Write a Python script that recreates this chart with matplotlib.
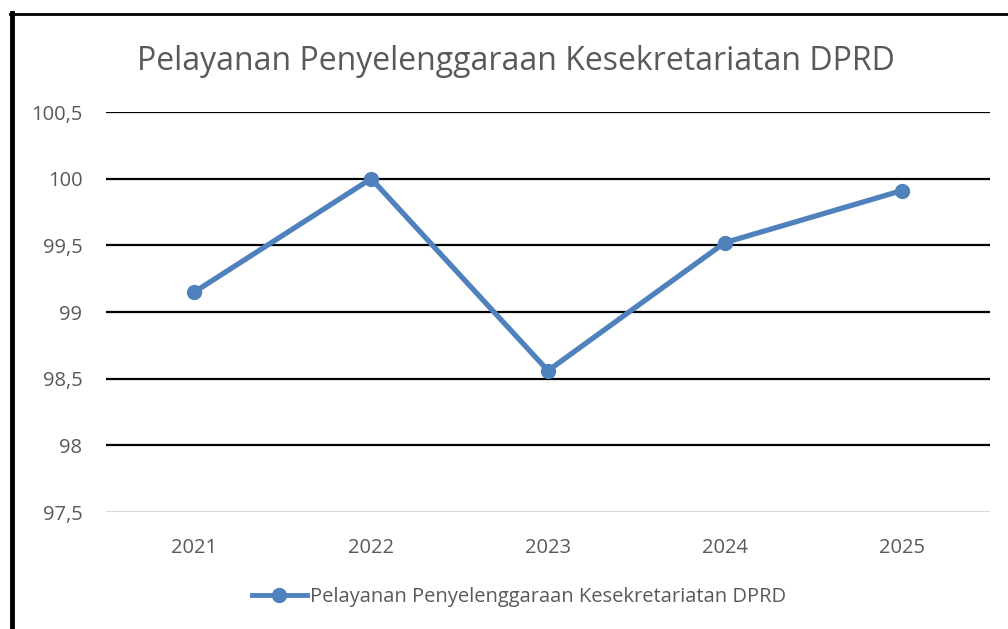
import matplotlib
matplotlib.use("Agg")
import matplotlib.pyplot as plt
from matplotlib.lines import Line2D
from matplotlib.ticker import FuncFormatter

years = ["2021", "2022", "2023", "2024", "2025"]
values = [99.15, 100.0, 98.56, 99.52, 99.91]
series_name = "Pelayanan Penyelenggaraan Kesekretariatan DPRD"
title = "Pelayanan Penyelenggaraan Kesekretariatan DPRD"
yticks = [97.5, 98, 98.5, 99, 99.5, 100, 100.5]

plt.rcParams['font.family'] = ['Open Sans', 'DejaVu Sans']
W, H = 1008, 629
fig = plt.figure(figsize=(W/100, H/100), dpi=100)
ax = fig.add_axes([106/W, 1-512/H, (990-106)/W, (512-112)/H])

x = list(range(len(years)))
line_color = "#4F81BD"
ax.plot(x, values, color=line_color, lw=3.8, marker="o", markersize=10,
        label=series_name, zorder=3, solid_capstyle="round")

ax.set_xlim(-0.5, len(years)-0.5)
ax.set_ylim(97.5, 100.5)
ax.set_yticks(yticks)
ax.yaxis.set_major_formatter(FuncFormatter(lambda v, p: (f"{v:g}").replace(".", ",")))
ax.set_xticks(x)
ax.set_xticklabels(years)
for s in ax.spines.values():
    s.set_visible(False)
ax.tick_params(axis="both", length=0, labelsize=14.5, colors="#595959")
ax.tick_params(axis="x", pad=19)
ax.tick_params(axis="y", pad=17)
for yv in yticks:
    if yv == yticks[0]:
        ax.axhline(yv, color="#D9D9D9", lw=1.6, zorder=1)
    else:
        ax.axhline(yv, color="black", lw=1.6, zorder=1)

fig.text(516/W, 1-61/H, title, ha="center", va="center", fontsize=23, color="#595959")

leg = fig.legend(handles=[Line2D([0], [0], color=line_color, lw=3.5, marker="o", markersize=10)],
                 labels=[series_name], loc="center", bbox_to_anchor=(519/W, 1-597/H),
                 frameon=False, fontsize=14.5, handlelength=2.75, handletextpad=0.15)
for t in leg.get_texts():
    t.set_color("#595959")

# outer border (left and top)
fig.add_artist(Line2D([12/W, 12/W], [0, 1-13/H], color="black", lw=3.5, transform=fig.transFigure))
fig.add_artist(Line2D([10/W, 1], [1-14/H, 1-14/H], color="black", lw=2, transform=fig.transFigure))

fig.savefig("out.png", dpi=100)
